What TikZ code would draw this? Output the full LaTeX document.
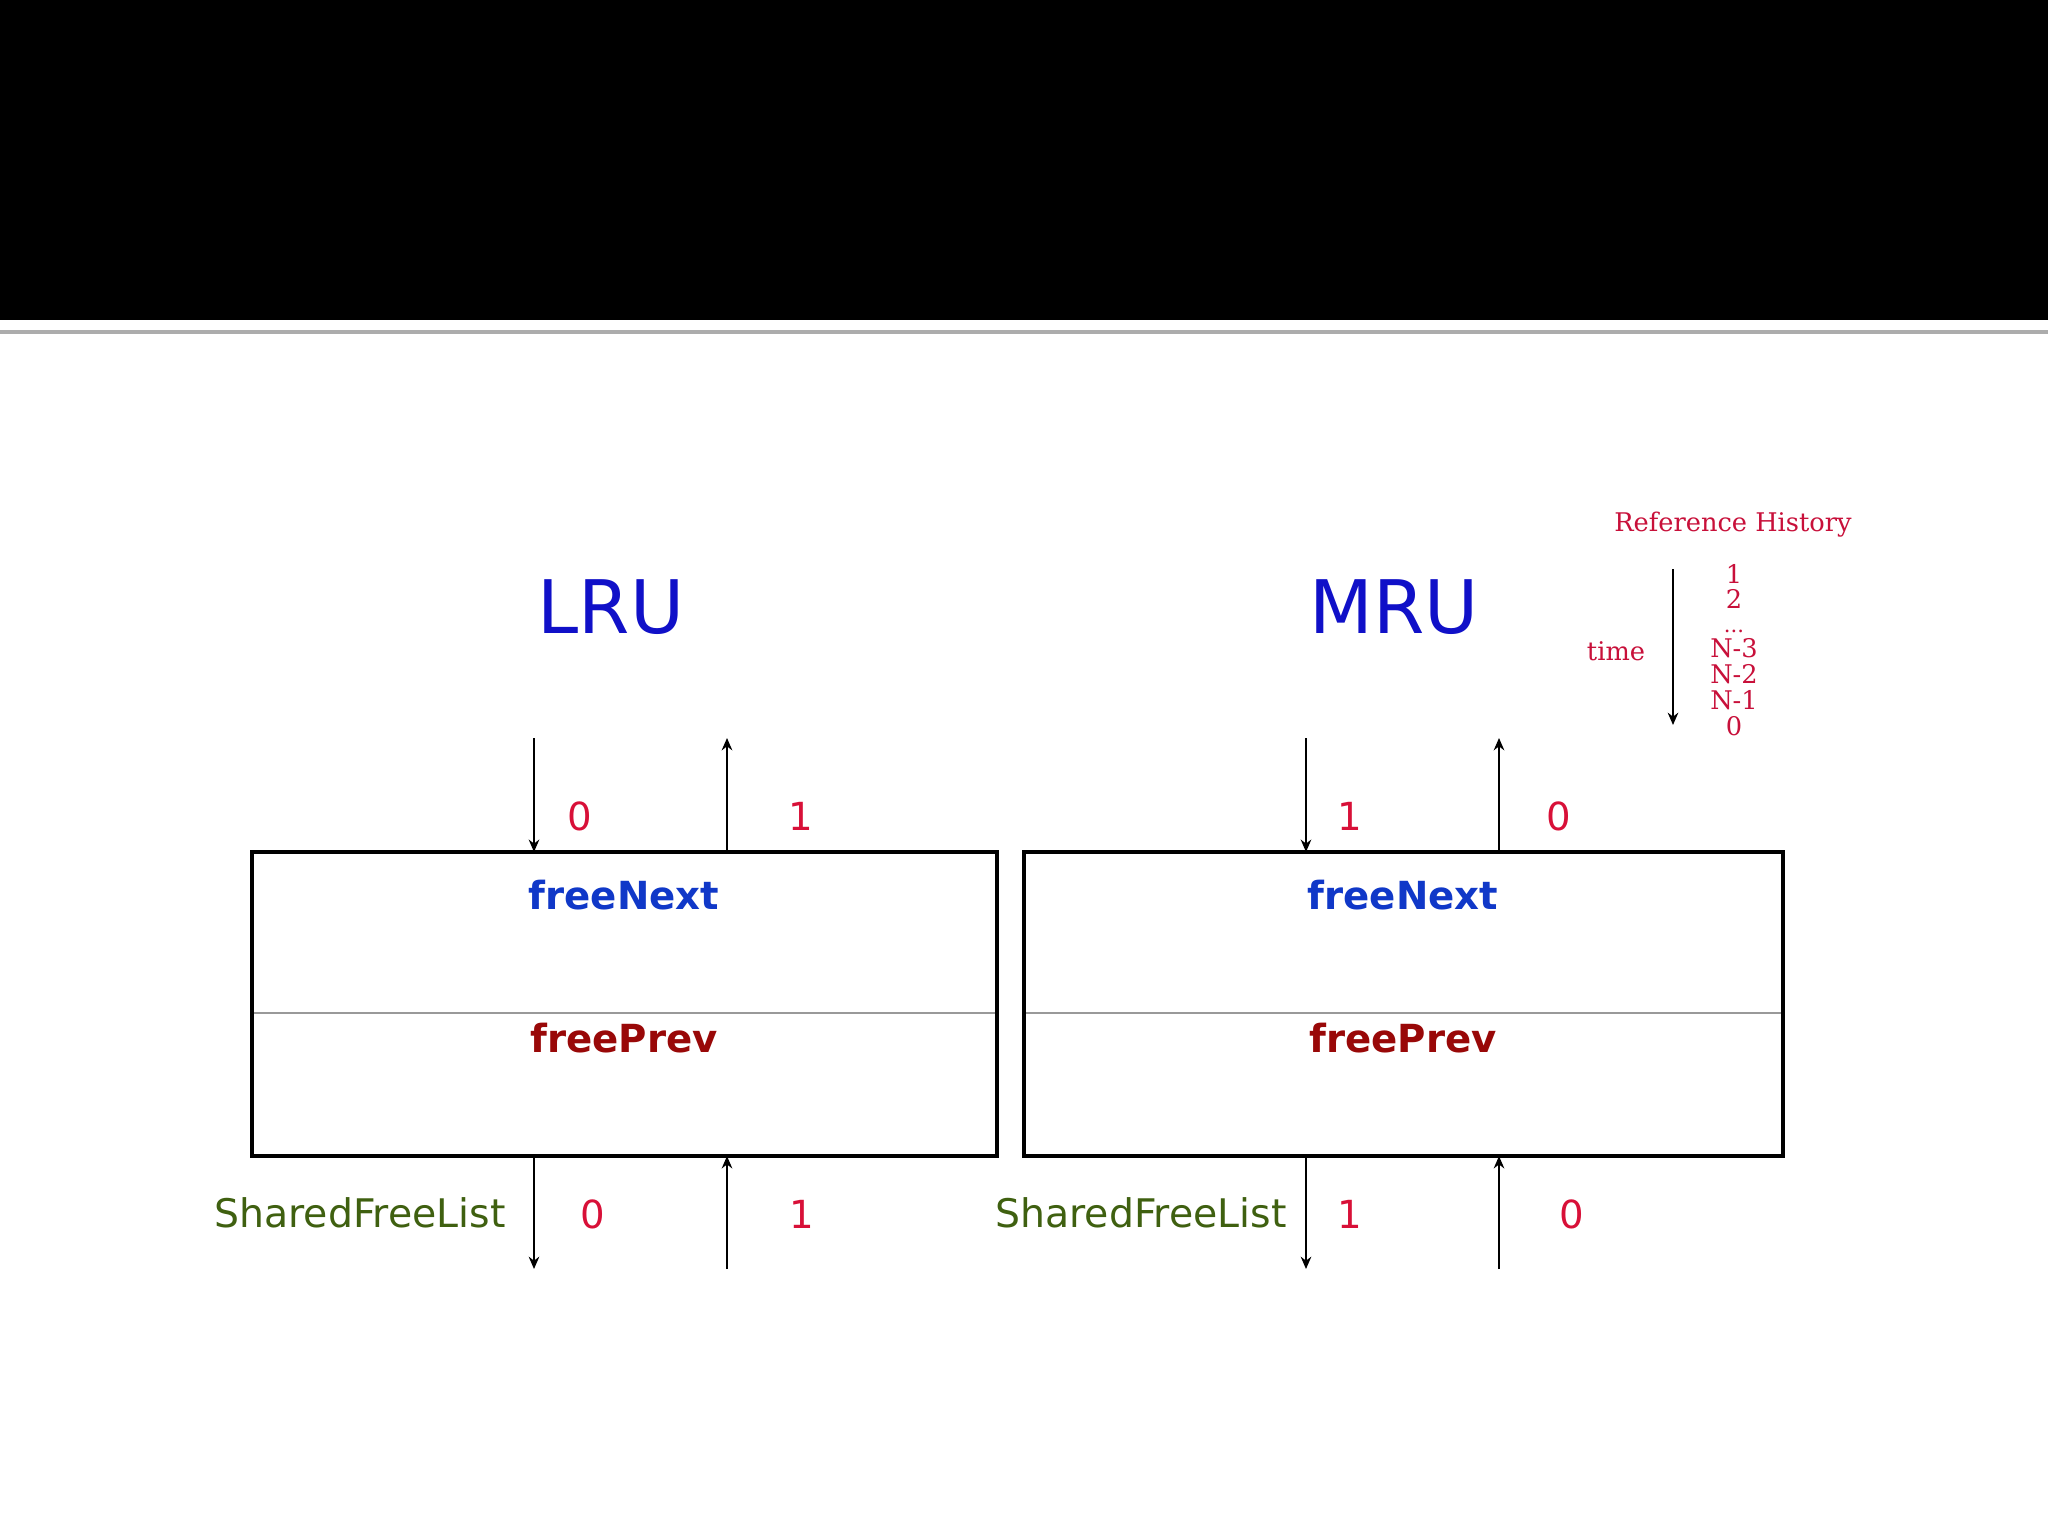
\documentclass[tikz,border=0pt]{standalone}
\usepackage{fontspec}
\setmainfont{DejaVu Sans}
\newfontfamily\refserif{DejaVu Serif}
\usetikzlibrary{arrows.meta}
\definecolor{lrublue}{HTML}{1010C8}
\definecolor{nextblue}{HTML}{1038C8}
\definecolor{prevred}{HTML}{990808}
\definecolor{numred}{HTML}{D81038}
\definecolor{sfgreen}{HTML}{3F6010}
\definecolor{histred}{HTML}{C8103A}
\tikzset{
  box/.style={draw=black, line width=1.2pt, inner sep=0pt, outer sep=0pt, fill=white},
  divider/.style={draw=gray!80, line width=0.8pt},
  arr/.style={draw=black, line width=0.6pt, -{Stealth[length=3.5pt,width=3pt]}},
  title/.style={font=\fontsize{21}{24}\selectfont, text=lrublue, inner sep=0pt},
  nextlbl/.style={font=\fontsize{11}{13}\selectfont\bfseries, text=nextblue, inner sep=0pt},
  prevlbl/.style={font=\fontsize{11}{13}\selectfont\bfseries, text=prevred, inner sep=0pt},
  numlbl/.style={font=\fontsize{11}{13}\selectfont, text=numred, inner sep=0pt},
  sflbl/.style={font=\fontsize{11.2}{13}\selectfont, text=sfgreen, inner sep=0pt},
  histlbl/.style={font=\refserif\fontsize{7.3}{8}\selectfont, text=histred, inner sep=0pt},
}
\begin{document}
\begin{tikzpicture}[x=0.01cm, y=-0.01cm]
\useasboundingbox (0,0) rectangle (2048,1536);
\fill[white] (0,0) rectangle (2048,1536);
% header band
\fill[black] (0,0) rectangle (2048,320);
\draw[gray!65, line width=1.4pt] (0,332) -- (2048,332);

% titles
\node[title] (lru) at (611,607) {LRU};
\node[title] (mru) at (1394,607) {MRU};

% boxes
\node[box, minimum width=7.45cm, minimum height=3.04cm] (boxL) at (624.5,1004) {};
\node[box, minimum width=7.59cm, minimum height=3.04cm] (boxR) at (1403.5,1004) {};
\coordinate (dL1) at (253,1013); \coordinate (dL2) at (996,1013);
\coordinate (dR1) at (1025,1013); \coordinate (dR2) at (1782,1013);
\draw[divider] (dL1) -- (dL2);
\draw[divider] (dR1) -- (dR2);
\draw[black, line width=1.2pt] (boxL.south west) rectangle (boxL.north east);
\draw[black, line width=1.2pt] (boxR.south west) rectangle (boxR.north east);

\node[nextlbl] (nextL) at (624,895) {freeNext};
\node[prevlbl] (prevL) at (624,1038) {freePrev};
\node[nextlbl] (nextR) at (1403,895) {freeNext};
\node[prevlbl] (prevR) at (1403,1038) {freePrev};

% free ends of connectors
\coordinate (tL1) at (534,738);  \coordinate (tL2) at (727,738);
\coordinate (bL1) at (534,1269); \coordinate (bL2) at (727,1269);
\coordinate (tR1) at (1306,738); \coordinate (tR2) at (1499,738);
\coordinate (bR1) at (1306,1269); \coordinate (bR2) at (1499,1269);

% left connectors
\draw[arr] (tL1) -- (tL1 |- boxL.north);
\draw[arr] (tL2 |- boxL.north) -- (tL2);
\draw[arr] (bL1 |- boxL.south) -- (bL1);
\draw[arr] (bL2) -- (bL2 |- boxL.south);
% right connectors
\draw[arr] (tR1) -- (tR1 |- boxR.north);
\draw[arr] (tR2 |- boxR.north) -- (tR2);
\draw[arr] (bR1 |- boxR.south) -- (bR1);
\draw[arr] (bR2) -- (bR2 |- boxR.south);

% number labels
\node[numlbl] (nL1) at (580,816) {0};
\node[numlbl] (nL2) at (801,816) {1};
\node[numlbl] (nR1) at (1350,816) {1};
\node[numlbl] (nR2) at (1559,816) {0};
\node[numlbl] (mL1) at (593,1214) {0};
\node[numlbl] (mL2) at (802,1214) {1};
\node[numlbl] (mR1) at (1350,1214) {1};
\node[numlbl] (mR2) at (1572,1214) {0};

\node[sflbl] (sfL) at (360,1213) {SharedFreeList};
\node[sflbl] (sfR) at (1141,1213) {SharedFreeList};

% reference history
\node[histlbl] (hist) at (1733,525) {Reference History};
\node[histlbl] (time) at (1616,651) {time};
\coordinate (ta) at (1673,569);
\coordinate (tb) at (1673,725);
\draw[arr] (ta) -- (tb);
\node[histlbl] (h1) at (1734,574) {1};
\node[histlbl] (h2) at (1734,599) {2};
\node[histlbl, anchor=base, font=\refserif\fontsize{6}{7}\selectfont] (h3) at (1734,632) {...};
\node[histlbl] (h4) at (1734,648) {N-3};
\node[histlbl] (h5) at (1734,674) {N-2};
\node[histlbl] (h6) at (1734,700) {N-1};
\node[histlbl] (h7) at (1734,726) {0};
\end{tikzpicture}
\end{document}
